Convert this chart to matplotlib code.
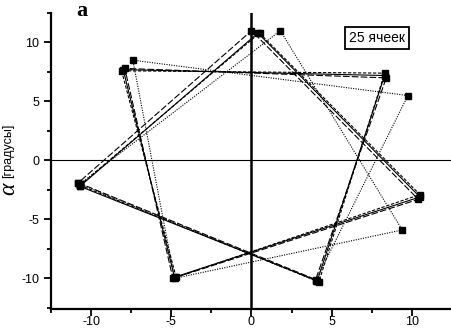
import matplotlib
matplotlib.use("Agg")
import matplotlib.pyplot as plt
from matplotlib.ticker import MultipleLocator

plt.rcParams['axes.unicode_minus'] = False

# Star vertices (order of traversal) for each series: x, alpha
s1_x = [-10.7, 4.1, 8.3, -8.0, -4.8, 10.5, 0.4, -10.7]
s1_y = [-2.2, -10.2, 7.2, 7.7, -9.9, -3.1, 10.8, -2.2]
s2_x = [-10.8, 4.0, 8.4, -7.9, -4.9, 10.4, 0.0, -10.8]
s2_y = [-1.9, -10.1, 7.0, 7.8, -10.0, -3.3, 11.0, -1.9]
s3_x = [-10.7, 4.2, 8.3, -8.1, -4.7, 10.5, 0.5, -10.7]
s3_y = [-2.1, -10.3, 7.4, 7.6, -9.9, -2.9, 10.8, -2.1]
s4_x = [-10.7, 4.0, 9.75, -7.4, -4.8, 9.4, 1.8, -10.7]
s4_y = [-2.0, -10.2, 5.5, 8.5, -10.0, -5.9, 11.0, -2.0]

W, H = 452, 329
fig = plt.figure(figsize=(W / 100, H / 100), dpi=100)
ax = fig.add_axes([51 / W, 1 - 309 / H, (W - 51) / W, (309 - 13) / H])

ax.axvline(0, color='black', lw=1.8, zorder=1)
ax.axhline(0, color='black', lw=0.8, zorder=1)

styles = [
    (s1_x, s1_y, '-'),
    (s2_x, s2_y, (0, (6, 2))),
    (s3_x, s3_y, (0, (3, 1.5))),
    (s4_x, s4_y, (0, (1, 1.2))),
]
for xs, ys, ls in styles:
    ax.plot(xs, ys, color='black', lw=0.8, linestyle=ls, marker='s',
            ms=4.5, mfc='black', mec='black', zorder=3)

ax.set_xlim(-12.5, 12.5)
ax.set_ylim(-12.6, 12.5)
ax.xaxis.set_major_locator(MultipleLocator(5))
ax.xaxis.set_minor_locator(MultipleLocator(2.5))
ax.yaxis.set_major_locator(MultipleLocator(5))
ax.yaxis.set_minor_locator(MultipleLocator(2.5))
for s in ['top', 'right']:
    ax.spines[s].set_visible(False)
for s in ['left', 'bottom']:
    ax.spines[s].set_linewidth(1.6)
ax.tick_params(which='major', direction='out', length=5, width=1.3,
               labelsize=9)
ax.tick_params(axis='x', which='major', pad=0.3)
ax.tick_params(which='minor', direction='out', length=3, width=1.3)
for lab in ax.get_xticklabels() + ax.get_yticklabels():
    lab.set_family('Liberation Sans')
ax.set_facecolor('white')

ax.text(377 / W, 1 - 38 / H, '25 ячеек', transform=fig.transFigure,
        ha='center', va='center', fontsize=10, family='Liberation Sans',
        bbox=dict(boxstyle='square,pad=0.3', fc='white', ec='black', lw=1.3),
        zorder=5)

fig.text(82 / W, 1 - 11.5 / H, 'a', ha='center', va='center', fontsize=16,
         family='Liberation Serif', fontweight='bold')

fig.text(9 / W, 1 - 189 / H, 'α', rotation=90, ha='center', va='center',
         fontsize=17, family='Liberation Serif', style='italic')
fig.text(8 / W, 1 - 151 / H, '[градусы]', rotation=90, ha='center',
         va='center', fontsize=9, family='Liberation Sans')

fig.savefig('out.png', dpi=100)
